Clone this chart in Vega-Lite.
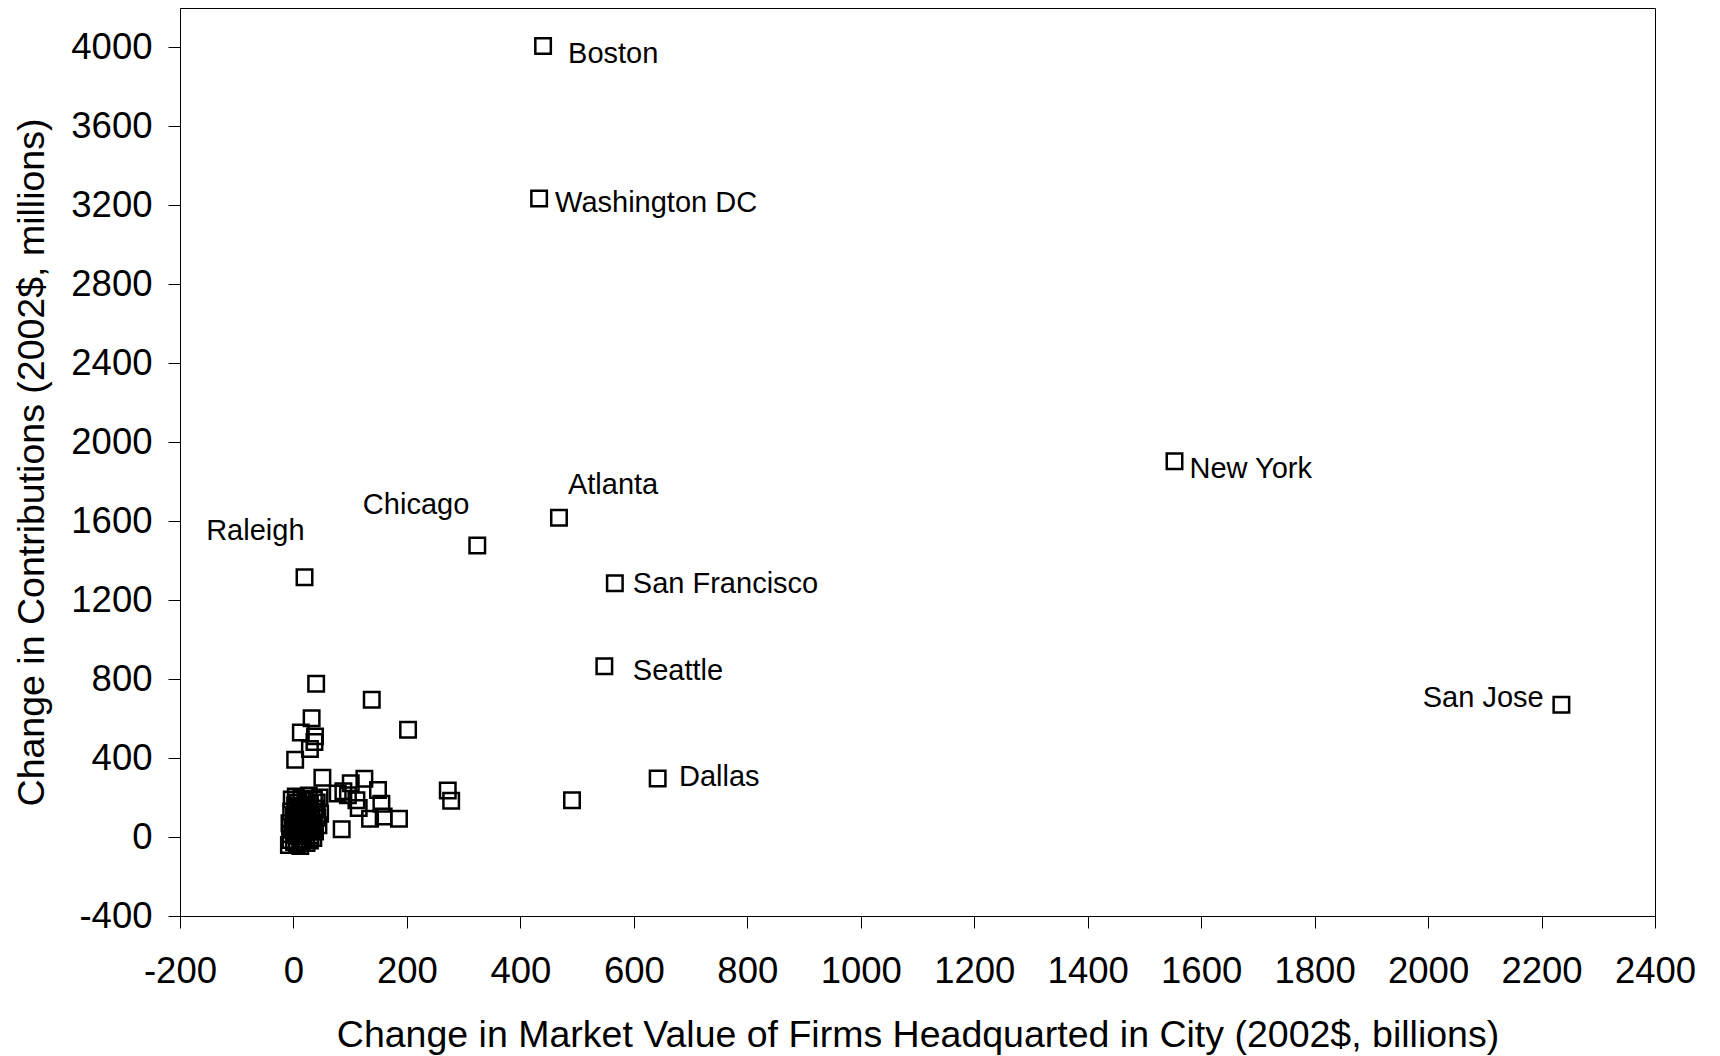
{
  "$schema": "https://vega.github.io/schema/vega-lite/v6.json",
  "width": 1475,
  "height": 908,
  "autosize": {"type": "none"},
  "padding": {"left": 180, "top": 8, "right": 65, "bottom": 140},
  "background": "white",
  "data": {
    "values": [
      {"city": "Boston", "mv": 440, "contrib": 4008},
      {"city": "Washington DC", "mv": 433, "contrib": 3235},
      {"city": "New York", "mv": 1553, "contrib": 1904},
      {"city": "Atlanta", "mv": 468, "contrib": 1617},
      {"city": "Chicago", "mv": 324, "contrib": 1477},
      {"city": "Raleigh", "mv": 19.5, "contrib": 1316},
      {"city": "San Francisco", "mv": 566.5, "contrib": 1286},
      {"city": "Seattle", "mv": 548, "contrib": 865},
      {"city": "San Jose", "mv": 2235, "contrib": 670},
      {"city": "Dallas", "mv": 642, "contrib": 296},
      {"city": "", "mv": 40, "contrib": 777},
      {"city": "", "mv": 138, "contrib": 696},
      {"city": "", "mv": 202, "contrib": 544},
      {"city": "", "mv": 32, "contrib": 602},
      {"city": "", "mv": 13, "contrib": 530},
      {"city": "", "mv": 38, "contrib": 510},
      {"city": "", "mv": 37, "contrib": 481},
      {"city": "", "mv": 29, "contrib": 446},
      {"city": "", "mv": 3, "contrib": 392},
      {"city": "", "mv": 51, "contrib": 300},
      {"city": "", "mv": 125, "contrib": 295},
      {"city": "", "mv": 101, "contrib": 272},
      {"city": "", "mv": 88, "contrib": 232},
      {"city": "", "mv": 78, "contrib": 220},
      {"city": "", "mv": 96, "contrib": 212},
      {"city": "", "mv": 149, "contrib": 238},
      {"city": "", "mv": 111, "contrib": 186},
      {"city": "", "mv": 155, "contrib": 169},
      {"city": "", "mv": 115, "contrib": 147},
      {"city": "", "mv": 159, "contrib": 104},
      {"city": "", "mv": 186, "contrib": 93},
      {"city": "", "mv": 135, "contrib": 93},
      {"city": "", "mv": 85, "contrib": 40},
      {"city": "", "mv": 272, "contrib": 236},
      {"city": "", "mv": 278, "contrib": 184},
      {"city": "", "mv": 491, "contrib": 186},
      {"city": "", "mv": -8, "contrib": -40},
      {"city": "", "mv": -6, "contrib": 15},
      {"city": "", "mv": -7, "contrib": 70},
      {"city": "", "mv": -4, "contrib": 130},
      {"city": "", "mv": -3, "contrib": 190},
      {"city": "", "mv": 0, "contrib": 35},
      {"city": "", "mv": 1, "contrib": -25},
      {"city": "", "mv": 2, "contrib": 95},
      {"city": "", "mv": 3, "contrib": 160},
      {"city": "", "mv": 4, "contrib": 205},
      {"city": "", "mv": 5, "contrib": 55},
      {"city": "", "mv": 6, "contrib": -38},
      {"city": "", "mv": 7, "contrib": 115},
      {"city": "", "mv": 8, "contrib": 175},
      {"city": "", "mv": 9, "contrib": 5},
      {"city": "", "mv": 10, "contrib": 75},
      {"city": "", "mv": 11, "contrib": 140},
      {"city": "", "mv": 12, "contrib": -45},
      {"city": "", "mv": 13, "contrib": 40},
      {"city": "", "mv": 14, "contrib": 195},
      {"city": "", "mv": 15, "contrib": 100},
      {"city": "", "mv": 16, "contrib": 20},
      {"city": "", "mv": 17, "contrib": 155},
      {"city": "", "mv": 18, "contrib": -12},
      {"city": "", "mv": 19, "contrib": 62},
      {"city": "", "mv": 20, "contrib": 122},
      {"city": "", "mv": 21, "contrib": 185},
      {"city": "", "mv": 22, "contrib": 85},
      {"city": "", "mv": 23, "contrib": -30},
      {"city": "", "mv": 24, "contrib": 30},
      {"city": "", "mv": 25, "contrib": 145},
      {"city": "", "mv": 26, "contrib": 105},
      {"city": "", "mv": 27, "contrib": 210},
      {"city": "", "mv": 28, "contrib": 50},
      {"city": "", "mv": 29, "contrib": 165},
      {"city": "", "mv": 30, "contrib": 8},
      {"city": "", "mv": 32, "contrib": 125},
      {"city": "", "mv": 34, "contrib": 72},
      {"city": "", "mv": 36, "contrib": 190},
      {"city": "", "mv": 38, "contrib": 28},
      {"city": "", "mv": 40, "contrib": 145},
      {"city": "", "mv": 42, "contrib": 98},
      {"city": "", "mv": 44, "contrib": 60},
      {"city": "", "mv": 46, "contrib": 200},
      {"city": "", "mv": 47, "contrib": 118},
      {"city": "", "mv": 29, "contrib": -17},
      {"city": "", "mv": 35, "contrib": -5},
      {"city": "", "mv": -5, "contrib": -15},
      {"city": "", "mv": -2, "contrib": 45},
      {"city": "", "mv": 1, "contrib": 110},
      {"city": "", "mv": 4, "contrib": 12},
      {"city": "", "mv": 6, "contrib": 85},
      {"city": "", "mv": 9, "contrib": 150},
      {"city": "", "mv": 11, "contrib": 48},
      {"city": "", "mv": 14, "contrib": -28},
      {"city": "", "mv": 16, "contrib": 135},
      {"city": "", "mv": 18, "contrib": 90},
      {"city": "", "mv": 20, "contrib": 25},
      {"city": "", "mv": 23, "contrib": 160},
      {"city": "", "mv": 26, "contrib": 65},
      {"city": "", "mv": 31, "contrib": 95},
      {"city": "", "mv": 33, "contrib": 40},
      {"city": "", "mv": 37, "contrib": 130},
      {"city": "", "mv": 41, "contrib": 175}
    ]
  },
  "encoding": {
    "x": {
      "field": "mv",
      "type": "quantitative",
      "scale": {"domain": [-200, 2400], "nice": false, "zero": false},
      "axis": {
        "title": "Change in Market Value of Firms Headquarted in City (2002$, billions)",
        "values": [-200, 0, 200, 400, 600, 800, 1000, 1200, 1400, 1600, 1800, 2000, 2200, 2400],
        "labelExpr": "'' + datum.value",
        "labelPadding": 25,
        "titlePadding": 27
      }
    },
    "y": {
      "field": "contrib",
      "type": "quantitative",
      "scale": {"domain": [-400, 4200], "nice": false, "zero": false},
      "axis": {
        "title": "Change in Contributions (2002$, millions)",
        "values": [-400, 0, 400, 800, 1200, 1600, 2000, 2400, 2800, 3200, 3600, 4000],
        "labelExpr": "'' + datum.value",
        "labelPadding": 16,
        "titlePadding": 19
      }
    }
  },
  "layer": [
    {
      "mark": {"type": "point", "shape": "square", "filled": false, "stroke": "black", "strokeWidth": 2.5, "size": 240, "opacity": 1}
    },
    {
      "transform": [{"filter": "datum.city === 'Boston'"}],
      "mark": {"type": "text", "align": "left", "baseline": "alphabetic", "dx": 25, "dy": 16.7, "fontSize": 29, "font": "Liberation Sans", "fill": "black"},
      "encoding": {"text": {"field": "city"}}
    },
    {
      "transform": [{"filter": "datum.city === 'Washington DC'"}],
      "mark": {"type": "text", "align": "left", "baseline": "alphabetic", "dx": 16, "dy": 14, "fontSize": 29, "font": "Liberation Sans", "fill": "black"},
      "encoding": {"text": {"field": "city"}}
    },
    {
      "transform": [{"filter": "datum.city === 'New York'"}],
      "mark": {"type": "text", "align": "left", "baseline": "alphabetic", "dx": 15, "dy": 16.6, "fontSize": 29, "font": "Liberation Sans", "fill": "black"},
      "encoding": {"text": {"field": "city"}}
    },
    {
      "transform": [{"filter": "datum.city === 'San Francisco'"}],
      "mark": {"type": "text", "align": "left", "baseline": "alphabetic", "dx": 18, "dy": 10, "fontSize": 29, "font": "Liberation Sans", "fill": "black"},
      "encoding": {"text": {"field": "city"}}
    },
    {
      "transform": [{"filter": "datum.city === 'Seattle'"}],
      "mark": {"type": "text", "align": "left", "baseline": "alphabetic", "dx": 28.5, "dy": 13.7, "fontSize": 29, "font": "Liberation Sans", "fill": "black"},
      "encoding": {"text": {"field": "city"}}
    },
    {
      "transform": [{"filter": "datum.city === 'Dallas'"}],
      "mark": {"type": "text", "align": "left", "baseline": "alphabetic", "dx": 21.3, "dy": 7.4, "fontSize": 29, "font": "Liberation Sans", "fill": "black"},
      "encoding": {"text": {"field": "city"}}
    },
    {
      "transform": [{"filter": "datum.city === 'Atlanta'"}],
      "mark": {"type": "text", "align": "left", "baseline": "alphabetic", "dx": 9, "dy": -24, "fontSize": 29, "font": "Liberation Sans", "fill": "black"},
      "encoding": {"text": {"field": "city"}}
    },
    {
      "transform": [{"filter": "datum.city === 'San Jose'"}],
      "mark": {"type": "text", "align": "right", "baseline": "alphabetic", "dx": -17.7, "dy": 2.7, "fontSize": 29, "font": "Liberation Sans", "fill": "black"},
      "encoding": {"text": {"field": "city"}}
    },
    {
      "transform": [{"filter": "datum.city === 'Chicago'"}],
      "mark": {"type": "text", "align": "right", "baseline": "alphabetic", "dx": -8, "dy": -31, "fontSize": 29, "font": "Liberation Sans", "fill": "black"},
      "encoding": {"text": {"field": "city"}}
    },
    {
      "transform": [{"filter": "datum.city === 'Raleigh'"}],
      "mark": {"type": "text", "align": "right", "baseline": "alphabetic", "dx": 0, "dy": -37.4, "fontSize": 29, "font": "Liberation Sans", "fill": "black"},
      "encoding": {"text": {"field": "city"}}
    }
  ],
  "config": {
    "view": {"stroke": "black", "strokeWidth": 1},
    "axis": {
      "grid": false,
      "domainColor": "black",
      "domainWidth": 1,
      "tickColor": "black",
      "tickWidth": 1,
      "tickSize": 12,
      "labelFont": "Liberation Sans",
      "labelFontSize": 36.5,
      "labelColor": "black",
      "labelOverlap": false,
      "labelFlush": false,
      "titleFont": "Liberation Sans",
      "titleFontSize": 37.5,
      "titleFontWeight": "normal",
      "titleColor": "black"
    }
  }
}
